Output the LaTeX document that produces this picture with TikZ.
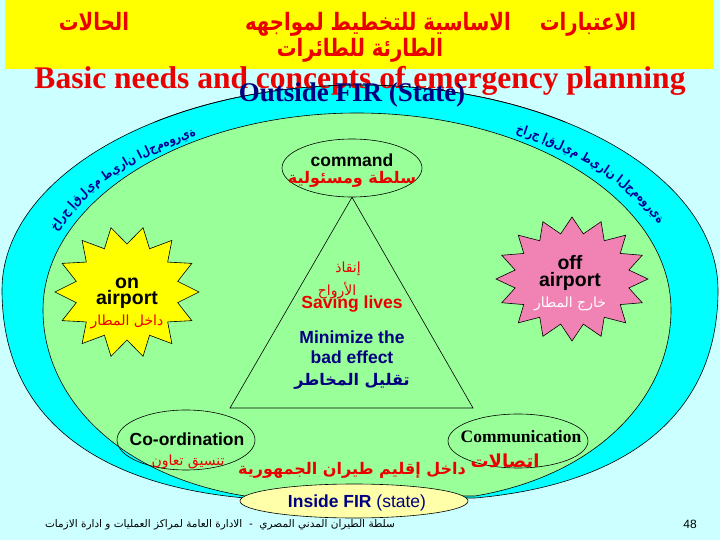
\documentclass[tikz,border=0pt]{standalone}
\usepackage{fontspec}
\setmainfont{Liberation Sans}
\newfontfamily\tnr{Liberation Serif}
\newfontfamily\arabicfont[Script=Arabic]{DejaVu Sans}
\newfontfamily\arabicnarrow[Script=Arabic, FakeStretch=0.82]{DejaVu Sans}
\TeXXeTstate=1
\usetikzlibrary{decorations.text,shapes.geometric}
\definecolor{bgc}{RGB}{204,255,255}
\definecolor{ringc}{RGB}{0,255,255}
\definecolor{greenc}{RGB}{153,255,153}
\definecolor{pinkc}{RGB}{240,130,180}
\definecolor{bannerc}{RGB}{255,255,0}
\definecolor{redc}{RGB}{235,0,0}
\definecolor{navyc}{RGB}{0,0,128}
\definecolor{arcc}{RGB}{0,0,150}
\definecolor{paley}{RGB}{255,255,170}
\tikzset{
  outline/.style={draw=black, line width=0.6pt},
  lbl/.style={inner sep=0pt, anchor=base},
  en/.style={lbl, font=\bfseries\fontsize{17.5}{18}\selectfont},
  arb/.style={lbl, font=\arabicfont\bfseries\fontsize{16}{18}\selectfont},
  arn/.style={lbl, font=\arabicfont\fontsize{14}{16}\selectfont},
  title/.style={lbl, text=redc, font=\arabicnarrow\bfseries\fontsize{24}{26}\selectfont},
  oval/.style={outline, ellipse, inner sep=0pt},
  arctext/.style={decorate, decoration={text along path, text align=center,
    text={|\arabicnarrow\bfseries\fontsize{12.5}{13}\selectfont\color{arcc}|#1}}},
}
\begin{document}
\begin{tikzpicture}[x=1pt,y=-1pt]
\useasboundingbox (0,0) rectangle (720,540);
\fill[bgc] (0,0) rectangle (720,540);
\fill[bannerc] (5,0) rectangle (714,69);
% outer ring shape
\path[fill=ringc, outline] (2,290) arc[start angle=180, end angle=360, x radius=358, y radius=205]
  .. controls (718,420) and (620,485) .. (475,498) -- (245,498)
  .. controls (100,485) and (2,420) .. (2,290) -- cycle;
% green shape
\path[fill=greenc, outline] (43,310) arc[start angle=180, end angle=360, x radius=314, y radius=197]
  .. controls (671,395) and (600,475) .. (475,496) -- (245,496)
  .. controls (115,475) and (43,395) .. (43,310) -- cycle;
% arc texts (letters set one by one along the ring, as the reference shows them)
\path[arctext={خارج إقليم طيران الجمهورية}]
  (360,292) ++(191:322 and 182) arc[start angle=191, end angle=245, x radius=322, y radius=182];
\path[arctext={خارج إقليم طيران الجمهورية}]
  (360,292) ++(293:322 and 182) arc[start angle=293, end angle=347, x radius=322, y radius=182];
% title
\node[title] (t1a) at (94,31) {\beginR الحالات\endR};
\node[title] (t1b) at (378,31) {\beginR الاساسية للتخطيط لمواجهه\endR};
\node[title] (t1c) at (588,31) {\beginR الاعتبارات\endR};
\node[title] (t2) at (360,57) {\beginR الطارئة للطائرات\endR};
\node[lbl, text=redc, font=\tnr\bfseries\fontsize{31.5}{34}\selectfont] (basic) at (360,89) {Basic needs and concepts of emergency planning};
\draw[outline] (360,290) ++(235:358 and 205) arc[start angle=235, end angle=305, x radius=358, y radius=205];
\node[lbl, text=navyc, font=\tnr\bfseries\fontsize{27}{30}\selectfont] (outside) at (352,102) {Outside FIR (State)};
% stars
\draw[outline, fill=bannerc] plot[domain=0:28, samples=29]
  ({127+(72-20*mod(round(\x),2))*cos(\x*360/28)}, {292+(66-18*mod(round(\x),2))*sin(\x*360/28)}) -- cycle;
\draw[outline, fill=pinkc] plot[domain=0:32, samples=33]
  ({572+(76-18*mod(round(\x),2))*cos(\x*360/32)}, {279+(62-16*mod(round(\x),2))*sin(\x*360/32)}) -- cycle;
\node[en, font=\bfseries\fontsize{19.5}{20}\selectfont] (on1) at (127,288) {on};
\node[en, font=\bfseries\fontsize{19.5}{20}\selectfont] (on2) at (127,304) {airport};
\node[arn, text=redc] (on3) at (127,325) {\beginR داخل المطار\endR};
\node[en, font=\bfseries\fontsize{19.5}{20}\selectfont] (off1) at (570,269) {off};
\node[en, font=\bfseries\fontsize{19.5}{20}\selectfont] (off2) at (570,286) {airport};
\node[arn, text=white] (off3) at (570,307) {\beginR خارج المطار\endR};
% command + triangle
\node[oval, minimum width=140, minimum height=58] (cmd) at (352,168) {};
\coordinate (tl) at (230,408);
\coordinate (tr) at (473,408);
\draw[outline] (cmd.south) -- (tl) -- (tr) -- cycle;
\node[en] (cmdt) at (352,167) {command};
\node[arb, text=redc] (cmda) at (352,184) {\beginR سلطة ومسئولية\endR};
\node[arn, text=redc] (sv1) at (348,272) {\beginR إنقاذ\endR};
\node[arn, text=redc] (sv2) at (337,295) {\beginR الأرواح\endR};
\node[en, text=redc] (sv3) at (352,308) {Saving lives};
\node[en, text=navyc] (mn1) at (352,343) {Minimize the};
\node[en, text=navyc] (mn2) at (352,363) {bad effect};
\node[arb, text=navyc] (mn3) at (352,385) {\beginR تقليل المخاطر\endR};
% coordination / communication
\node[oval, minimum width=138, minimum height=60] (coord) at (186,440) {};
\node[oval, minimum width=140, minimum height=54] (comm) at (518,441) {};
\node[en] (coordt) at (187,445) {Co-ordination};
\node[arn, text=redc] (coorda) at (188,465) {\beginR تنسيق تعاون\endR};
\node[lbl, font=\tnr\bfseries\fontsize{17.5}{18}\selectfont] (commt) at (521,442) {Communication};
\node[arb, text=redc, font=\arabicfont\bfseries\fontsize{18}{20}\selectfont] (comma) at (505,467) {\beginR اتصالات\endR};
\node[arb, text=redc] (inside) at (352,474) {\beginR داخل إقليم طيران الجمهورية\endR};
% inside FIR
\node[oval, fill=paley, minimum width=228, minimum height=34] (fir) at (354,501) {};
\node[lbl, text=navyc, font=\fontsize{17.5}{18}\selectfont] (firt) at (357,507) {\textbf{Inside FIR} (state)};
% footer
\node[lbl, font=\arabicfont\fontsize{10.5}{12}\selectfont] (foot) at (220,527) {\beginR سلطة الطيران المدني المصري \ - \ الادارة العامة لمراكز العمليات و ادارة الازمات\endR};
\node[lbl, font=\fontsize{12}{14}\selectfont] (pg) at (690,528) {48};
\end{tikzpicture}
\end{document}
